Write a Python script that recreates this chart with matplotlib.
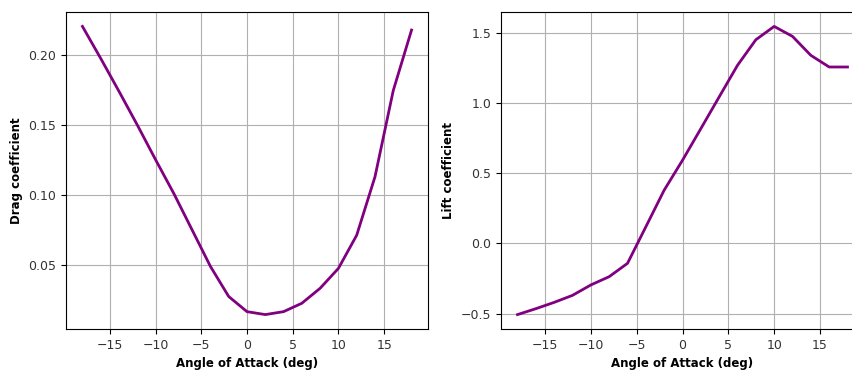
import matplotlib
matplotlib.use("Agg")
import matplotlib.pyplot as plt
import numpy as np

# angle of attack sweep
alpha = np.arange(-18, 19, 2)
cd = [0.2204, 0.1975, 0.174, 0.1500, 0.1252, 0.101, 0.075, 0.049, 0.0275, 0.0167,
      0.0146, 0.0167, 0.0227, 0.0334, 0.0476, 0.0713, 0.113, 0.1746, 0.2178]
cl = [-0.507, -0.465, -0.42, -0.37, -0.296, -0.237, -0.142, 0.118, 0.379, 0.592,
      0.817, 1.043, 1.268, 1.45, 1.545, 1.474, 1.339, 1.256, 1.256]

W, H = 853, 370
fig = plt.figure(figsize=(W / 100, H / 100), dpi=100)

ax1 = fig.add_axes([66 / W, 41 / H, 362 / W, 317 / H])
ax2 = fig.add_axes([501 / W, 41 / H, 363 / W, 317 / H])

ax1.plot(alpha, cd, color='purple', linewidth=2)
ax1.set_xlabel('Angle of Attack (deg)', fontweight='bold', fontsize=8.5)
ax1.set_ylabel('Drag coefficient', fontweight='bold', fontsize=8.5)
ax1.set_yticks([0.05, 0.10, 0.15, 0.20])
ax1.grid(True)

ax2.plot(alpha, cl, color='purple', linewidth=2)
ax2.set_xlabel('Angle of Attack (deg)', fontweight='bold', fontsize=8.5)
ax2.set_ylabel('Lift coefficient', fontweight='bold', fontsize=8.5)
ax2.grid(True)

for ax in (ax1, ax2):
    ax.tick_params(labelsize=9, labelcolor='#333333')

plt.savefig("out.png", dpi=100)
